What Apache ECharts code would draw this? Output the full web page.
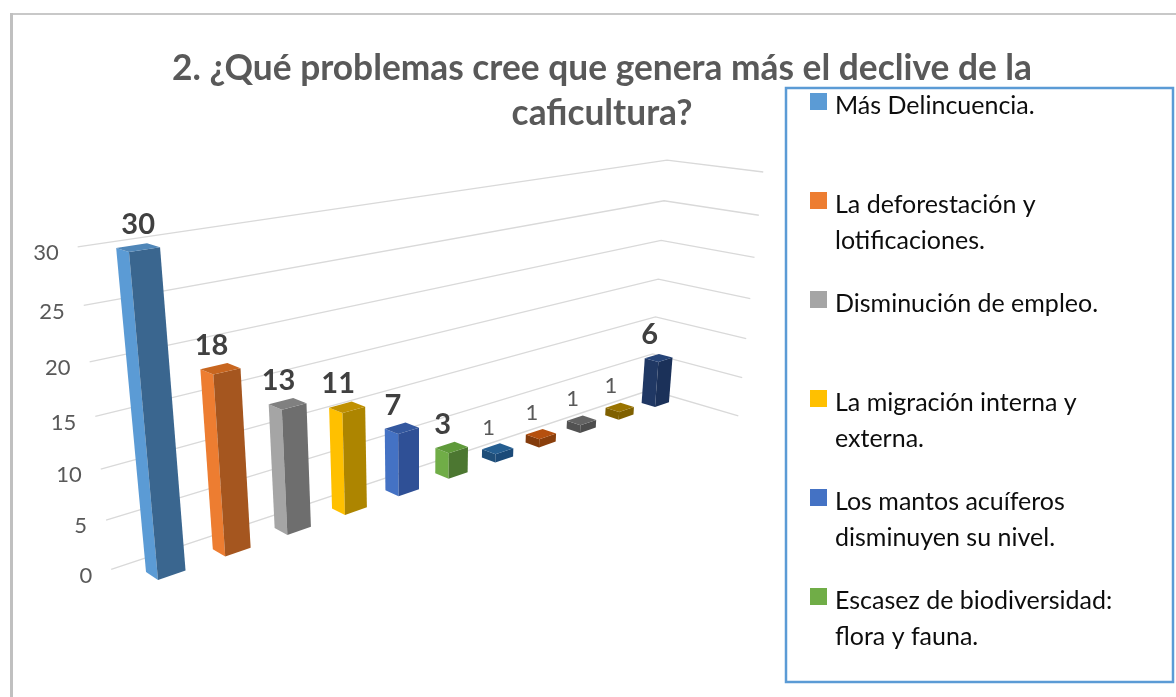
<!DOCTYPE html>
<html>
<head>
<meta charset="utf-8">
<style>
html, body { margin: 0; padding: 0; background: #fff; }
#chart { width: 1176px; height: 697px; }
</style>
<script src="https://cdn.jsdelivr.net/npm/echarts@6/dist/echarts.min.js"></script>
</head>
<body>
<div id="chart"></div>
<script>
const titleText = '2. ¿Qué problemas cree que genera más el declive de la\ncaficultura?';
const values = [30, 18, 13, 11, 7, 3, 1, 1, 1, 1, 6];
const yTicks = [0, 5, 10, 15, 20, 25, 30];
const legendRows = [
    'Más Delincuencia.',
    'La deforestación y\nlotificaciones.',
    'Disminución de empleo.',
    'La migración interna y\nexterna.',
    'Los mantos acuíferos\ndisminuyen su nivel.',
    'Escasez de biodiversidad:\nflora y fauna.',
];
const legendColors = ['#5b9bd5', '#ed7d31', '#a5a5a5', '#ffc000', '#4472c4', '#70ad47'];
// cara izquierda, cara derecha, tapa
const sideColors = ['#5b9bd5', '#ed7d31', '#a5a5a5', '#ffc000', '#4472c4', '#70ad47', '#1f4e79', '#843c0c', '#525252', '#7f6000', '#203864'];
const frontColors = ['#3a668f', '#a5561f', '#6e6e6e', '#ad8500', '#2f5096', '#4c7731', '#1b4a78', '#8a3f0c', '#4d4d4d', '#7f6000', '#1b3159'];
const topColors = ['#4f86b8', '#c8661f', '#808080', '#c09000', '#34589f', '#5f9a3a', '#255e91', '#b5500f', '#636363', '#997300', '#264478'];

// proyeccion: esquinas del plano frontal de las barras (s = barra, v = valor)
const quad = [[158, 580], [655, 407], [673, 168], [129, 252]];
const depthVanish = [-715, -10];
const depthK = -0.0139;
const barWidth = 0.4;
const wallW = -2.2, wallStart = -0.3, wallCorner = 10.7, wallEnd = 4.2;

function homography(q) {
    const [x0, y0] = q[0], [x1, y1] = q[1], [x2, y2] = q[2], [x3, y3] = q[3];
    const dx1 = x1 - x2, dx2 = x3 - x2, sx = x0 - x1 + x2 - x3;
    const dy1 = y1 - y2, dy2 = y3 - y2, sy = y0 - y1 + y2 - y3;
    const den = dx1 * dy2 - dx2 * dy1;
    const g = (sx * dy2 - dx2 * sy) / den;
    const h = (dx1 * sy - sx * dy1) / den;
    return { a: x1 - x0 + g * x1, b: x3 - x0 + h * x3, c: x0, d: y1 - y0 + g * y1, e: y3 - y0 + h * y3, f: y0, g, h };
}
const H = homography(quad);

function projector(api) {
    const o = api.coord([0, 0]), ex = api.coord([10, 0]), ey = api.coord([0, 30]);
    return function (s, v, w) {
        const p = api.coord([s, v]);
        const u = (p[0] - o[0]) / (ex[0] - o[0]);
        const t = (p[1] - o[1]) / (ey[1] - o[1]);
        const W = H.g * u + H.h * t + 1 + w * depthK;
        return [
            (H.a * u + H.b * t + H.c + w * depthK * depthVanish[0]) / W,
            (H.d * u + H.e * t + H.f + w * depthK * depthVanish[1]) / W,
        ];
    };
}

function renderWall(params, api) {
    const P = projector(api);
    const v = api.value(0);
    const a = P(wallStart, v, wallW), b = P(wallCorner, v, wallW), c = P(wallCorner, v, wallEnd);
    return {
        type: 'group',
        children: [
            { type: 'polyline', shape: { points: [a, b, c] }, style: { fill: null, stroke: '#d9d9d9', lineWidth: 1.3 } },
            { type: 'text', x: a[0] - 19, y: a[1] + 6, style: { text: String(v), fill: '#595959', font: '22px Lato', align: 'right', verticalAlign: 'middle' } },
        ],
    };
}

function renderBar(params, api) {
    const P = projector(api);
    const s = api.value(0), v = api.value(1), i = params.seriesIndex - 1;
    const poly = (pts, fill) => ({ type: 'polygon', shape: { points: pts }, style: { fill: fill } });
    const lb = P(s, 0, -1), lt = P(s, v, -1), fb = P(s, 0, 0), ft = P(s, v, 0);
    const rb = P(s + barWidth, 0, 0), rt = P(s + barWidth, v, 0), bt = P(s + barWidth, v, -1);
    const big = v > 1;
    const top = P(s + barWidth / 2, v, -0.5);
    return {
        type: 'group',
        children: [
            poly([lb, lt, ft, fb], sideColors[i]),
            poly([fb, ft, rt, rb], frontColors[i]),
            poly([lt, bt, rt, ft], topColors[i]),
            {
                type: 'text', x: top[0] + (i === 0 ? 0 : -9), y: top[1] - (big ? 23 : 21),
                style: { text: String(v), fill: big ? '#404040' : '#595959', font: (big ? 'bold 29px' : '22px') + ' Lato', align: 'center', verticalAlign: 'middle' },
            },
        ],
    };
}

const legendGraphic = [
    { type: 'rect', shape: { x: 10, y: 13, width: 1170, height: 2 }, style: { fill: '#c8c8c8' } },
    { type: 'rect', shape: { x: 10, y: 13, width: 3, height: 690 }, style: { fill: '#c0c0c0' } },
    { type: 'rect', shape: { x: 786, y: 88, width: 387, height: 594 }, style: { fill: '#fff', stroke: '#5b9bd5', lineWidth: 2.5 } },
];
legendRows.forEach((name, i) => {
    legendGraphic.push({ type: 'rect', shape: { x: 810, y: 93 + i * 99, width: 17, height: 17 }, style: { fill: legendColors[i] } });
    legendGraphic.push({ type: 'text', x: 835, y: 88 + i * 99, style: { text: name, fill: '#0d0d0d', font: '25px Lato', lineHeight: 36 } });
});

const chart = echarts.init(document.getElementById('chart'));
chart.setOption({
    animation: false,
    backgroundColor: '#fff',
    title: {
        text: titleText,
        left: 597,
        top: 41,
        textAlign: 'center',
        textStyle: { fontFamily: 'Lato', fontWeight: 'bold', fontSize: 35.3, lineHeight: 45, color: '#595959' },
    },
    grid: { left: 100, right: 400, top: 150, bottom: 120 },
    xAxis: { type: 'value', min: -1, max: 12, show: false },
    yAxis: { type: 'value', min: 0, max: 30, interval: 5, show: false },
    graphic: legendGraphic,
    series: [
        { type: 'custom', name: 'ejes', renderItem: renderWall, coordinateSystem: 'cartesian2d', data: yTicks.map(v => [v]), encode: { y: 0 }, silent: true, z: 1 },
    ].concat(values.map((v, i) => ({
        type: 'custom',
        name: legendRows[i] || 'barra ' + (i + 1),
        coordinateSystem: 'cartesian2d',
        renderItem: renderBar,
        data: [[i, v]],
        encode: { x: 0, y: 1 },
        z: 2,
    }))),
});
</script>
</body>
</html>
